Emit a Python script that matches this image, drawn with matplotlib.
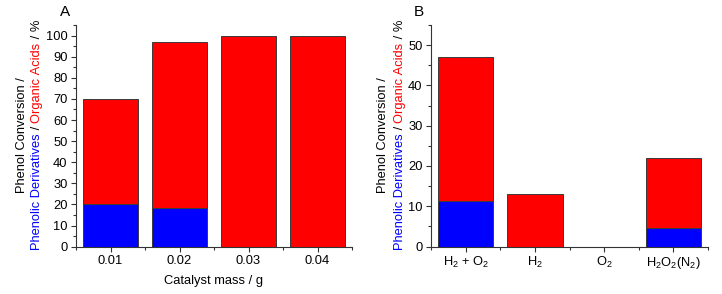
"""
Phenol conversion bar charts: (A) catalyst mass, (B) gas atmosphere
"""

import numpy as np
import matplotlib
matplotlib.use('Agg')
import matplotlib.pyplot as plt  # pylint: disable=wrong-import-position
from matplotlib.ticker import MultipleLocator  # pylint: disable=wrong-import-position

plt.rcParams['font.family'] = ['Liberation Sans', 'DejaVu Sans']
plt.rcParams['mathtext.default'] = 'regular'
plt.rcParams['font.size'] = 9

# Panel A: catalyst mass
mass_labels = ['0.01', '0.02', '0.03', '0.04']
mass_derivatives = [20.3, 18.5, 0, 0]
mass_total = [70, 97, 100, 100]

# Panel B: atmosphere
gas_labels = ['$H_2$ + $O_2$', '$H_2$', '$O_2$', '$H_2O_2(N_2)$']
gas_derivatives = [11.3, 0, 0, 4.5]
gas_total = [47, 13, 0, 22]

RED = '#ff0000'
BLUE = '#0000ff'
EDGE = '#3a3a3a'
LABEL_SIZE = 9.3
TICK_SIZE = 9.3

W, H = 722, 294
fig = plt.figure(figsize=(W / 100, H / 100), dpi=100)


def px(x, y):
    """Convert pixel coords (top-left origin) to figure fraction."""
    return x / W, 1 - y / H


def draw_panel(ax, labels, derivs, totals, ymax, ystep):
    """Stacked bars: phenolic derivatives (blue) below organic acids (red)."""
    x = np.arange(len(labels))
    derivs = np.array(derivs, dtype=float)
    acids = np.array(totals, dtype=float) - derivs
    ax.bar(x, derivs, width=0.8, color=BLUE, edgecolor=EDGE, linewidth=0.7)
    ax.bar(x, acids, width=0.8, bottom=derivs, color=RED, edgecolor=EDGE, linewidth=0.7)
    ax.set_xlim(-0.5, len(labels) - 0.5)
    ax.set_ylim(0, ymax)
    ax.set_xticks(x)
    ax.set_xticklabels(labels)
    ax.set_xticks(np.arange(-0.5, len(labels), 1.0), minor=True)
    ax.yaxis.set_major_locator(MultipleLocator(ystep))
    ax.yaxis.set_minor_locator(MultipleLocator(ystep / 2))
    for side in ('top', 'right'):
        ax.spines[side].set_visible(False)
    for side in ('left', 'bottom'):
        ax.spines[side].set_color('#333333')
        ax.spines[side].set_linewidth(0.8)
    ax.tick_params(which='major', direction='out', length=3.5, width=0.8,
                   color='#333333', labelsize=TICK_SIZE, pad=2.5)
    ax.tick_params(which='minor', direction='out', length=2, width=0.8,
                   color='#333333')


def colored_ylabel(x_line1, x_line2, y_center):
    """Two-line rotated label with coloured pieces."""
    renderer = fig.canvas.get_renderer()
    lines = [
        (x_line1, [('Phenol Conversion /', 'black')]),
        (x_line2, [('Phenolic Derivatives', BLUE), (' / ', 'black'),
                   ('Organic Acids', RED), (' / %', 'black')]),
    ]
    for xpos, pieces in lines:
        widths = []
        for s, _ in pieces:
            t = fig.text(0, 0, s.replace(' ', '\u00a0'), fontsize=LABEL_SIZE)
            widths.append(t.get_window_extent(renderer).width)
            t.remove()
        y = y_center + sum(widths) / 2  # pixels from top, start at bottom
        for (s, c), w in zip(pieces, widths):
            fx, fy = px(xpos, y)
            fig.text(fx, fy, s.replace(' ', '\u00a0'), color=c, fontsize=LABEL_SIZE,
                     rotation=90, rotation_mode='anchor', ha='left', va='center')
            y -= w


ax_a = fig.add_axes([76 / W, 1 - 246.7 / H, (352 - 76) / W, (246.7 - 25) / H])
draw_panel(ax_a, mass_labels, mass_derivatives, mass_total, 105, 10)
ax_a.set_xlabel('Catalyst mass / g', fontsize=LABEL_SIZE, labelpad=6)

ax_b = fig.add_axes([431 / W, 1 - 246.5 / H, (708 - 431) / W, (246.5 - 25) / H])
draw_panel(ax_b, gas_labels, gas_derivatives, gas_total, 55, 10)

fig.text(*px(65, 12), 'A', fontsize=11, ha='center', va='center')
fig.text(*px(419, 12), 'B', fontsize=11, ha='center', va='center')

colored_ylabel(22, 37, 135)
colored_ylabel(383, 400, 135)

fig.savefig('out.png', dpi=100)
